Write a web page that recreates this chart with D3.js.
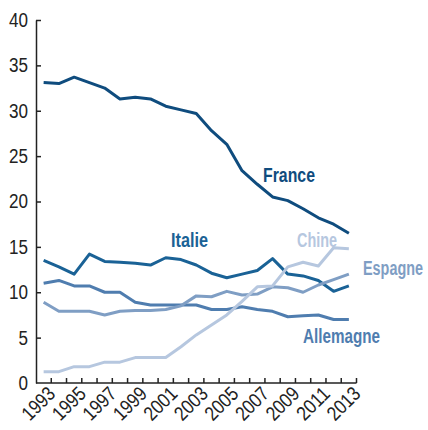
<!DOCTYPE html>
<html>
<head>
<meta charset="utf-8">
<script src="https://cdn.jsdelivr.net/npm/d3@7"></script>
<style>
  body { margin: 0; background: #fff; }
  svg text { font-family: "Liberation Sans", Arial, sans-serif; }
  .axis path, .axis line { stroke: #222; stroke-width: 1.5; }
  .axis text { font-size: 20px; fill: #222; }
  .serie { fill: none; stroke-width: 3; stroke-linejoin: round; }
  .lbl { font-size: 21px; font-weight: bold; }
</style>
</head>
<body>
<div class="chart"></div>
<script>
// data
const years = d3.range(1993, 2014);
const france    = [33.1, 33.0, 33.7, 33.1, 32.5, 31.3, 31.5, 31.3, 30.5, 30.1, 29.7, 27.8, 26.3, 23.4, 21.9, 20.5, 20.1, 19.2, 18.2, 17.5, 16.5];
const italie    = [13.5, 12.8, 12.0, 14.2, 13.4, 13.3, 13.2, 13.0, 13.8, 13.6, 13.0, 12.1, 11.6, 12.0, 12.4, 13.7, 12.0, 11.8, 11.3, 10.1, 10.7];
const allemagne = [11.0, 11.3, 10.7, 10.7, 10.0, 10.0, 8.9, 8.6, 8.6, 8.6, 8.6, 8.1, 8.1, 8.4, 8.1, 7.9, 7.3, 7.4, 7.5, 7.0, 7.0];
const espagne   = [8.9, 7.9, 7.9, 7.9, 7.5, 7.9, 8.0, 8.0, 8.1, 8.5, 9.6, 9.5, 10.1, 9.7, 9.8, 10.6, 10.5, 10.0, 10.8, 11.4, 12.0];
const chine     = [1.25, 1.25, 1.8, 1.8, 2.3, 2.3, 2.8, 2.8, 2.8, 4.0, 5.3, 6.4, 7.5, 9.0, 10.6, 10.7, 12.8, 13.3, 12.9, 14.9, 14.8];
const yTicks = [0, 5, 10, 15, 20, 25, 30, 35, 40];

const width = 428, height = 430;

const svg = d3.select(".chart")
    .append("svg")
    .attr("width", width)
    .attr("height", height);

// band scale, lines sit at band centres, ticks at band edges
const x = d3.scaleBand().domain(years).range([36, 356.5]);
const y = d3.scaleLinear().domain([0, 40]).range([383, 20]);
const xc = d => x(d) + x.bandwidth() / 2;

// no narrow font installed, squeeze the glyphs instead
const digitW = 9.5;
function squeeze(sel) {
    sel.each(function () {
        const t = d3.select(this), s = t.text();
        if (s) t.attr("textLength", s.length * digitW).attr("lengthAdjust", "spacingAndGlyphs");
    });
}

//******************************  axes  ******************************

const gy = svg.append("g")
    .attr("class", "axis")
    .attr("transform", "translate(36,0)")
    .call(d3.axisLeft(y).tickValues(yTicks).tickSize(-5).tickSizeOuter(0).tickPadding(8));
gy.selectAll(".tick").filter(d => d === 0).select("line").remove();
gy.selectAll(".tick text").call(squeeze);

const gx = svg.append("g")
    .attr("class", "axis")
    .attr("transform", "translate(0,383)")
    .call(d3.axisBottom(x).tickSize(-5).tickSizeOuter(0)
        .tickFormat(d => d % 2 === 1 ? d : ""));
gx.select(".domain").attr("d", "M36,0H356.5");
gx.selectAll(".tick line").attr("x1", x.bandwidth() / 2).attr("x2", x.bandwidth() / 2);
gx.selectAll(".tick text")
    .attr("text-anchor", "end")
    .attr("transform", "translate(8,7) rotate(-45)")
    .attr("dy", "0.35em")
    .attr("y", 0)
    .attr("x", 0)
    .call(squeeze);

//******************************  lines  ******************************

const series = [
    {name: "France",    values: france,    color: "#0f4c7e"},
    {name: "Italie",    values: italie,    color: "#1a6296"},
    {name: "Allemagne", values: allemagne, color: "#4f7daf"},
    {name: "Espagne",   values: espagne,   color: "#7f9ec4"},
    {name: "Chine",     values: chine,     color: "#b6c7df"}
];

const line = d3.line()
    .x((d, i) => xc(years[i]))
    .y(d => y(d));

svg.selectAll(".serie")
    .data(series)
    .enter().append("path")
    .attr("class", "serie")
    .attr("stroke", d => d.color)
    .attr("d", d => line(d.values));

// labels, scaled horizontally to the narrow widths of the original
const labels = [
    {name: "France",    x: 263, y: 182, w: 52},
    {name: "Italie",    x: 171, y: 247, w: 37},
    {name: "Chine",     x: 297, y: 247, w: 40},
    {name: "Espagne",   x: 363, y: 275, w: 60},
    {name: "Allemagne", x: 303, y: 343, w: 77}
];

svg.selectAll(".lbl")
    .data(labels)
    .enter().append("text")
    .attr("class", "lbl")
    .attr("fill", d => series.find(s => s.name === d.name).color)
    .text(d => d.name)
    .attr("transform", function (d) {
        const k = d.w / this.getComputedTextLength();
        return "translate(" + d.x + "," + d.y + ") scale(" + k + ",1)";
    });
</script>
</body>
</html>
